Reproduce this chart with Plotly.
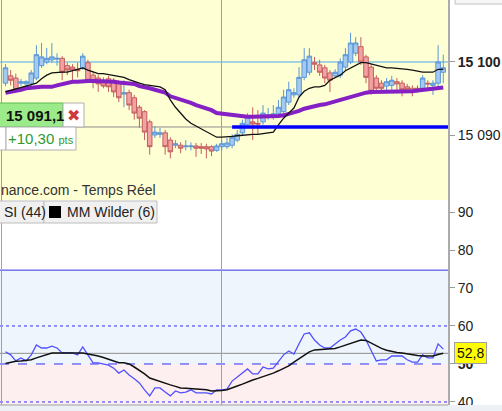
import plotly.graph_objects as go

# candle index (one per bar)
idx = list(range(86))

opens = [15097.1, 15098.1, 15097.8, 15097.1, 15097.0, 15097.1, 15097.8, 15099.5, 15100.0, 15100.3,
         15100.4, 15100.5, 15099.5, 15099.3, 15099.0, 15099.2, 15099.9, 15098.2, 15097.8, 15097.5,
         15097.7, 15097.5, 15097.1, 15095.6, 15095.8, 15095.1, 15093.8, 15093.2, 15091.8, 15090.0,
         15090.1, 15090.3, 15089.3, 15088.6, 15088.6, 15088.4, 15088.4, 15088.5, 15088.4, 15088.4,
         15088.4, 15087.9, 15088.4, 15088.4, 15088.6, 15089.3, 15090.3, 15091.4, 15091.8, 15091.6,
         15091.8, 15092.6, 15092.7, 15092.9, 15093.2, 15094.5, 15095.5, 15095.5, 15097.9, 15098.6,
         15099.9, 15099.6, 15099.2, 15098.5, 15098.1, 15098.2, 15099.3, 15100.0, 15101.2, 15102.1,
         15100.7, 15099.3, 15097.8, 15097.1, 15096.7, 15096.8, 15097.3, 15097.1, 15096.6, 15096.4,
         15096.4, 15096.4, 15097.1, 15096.8, 15097.1, 15098.6]
highs = [15099.7, 15098.9, 15098.4, 15097.7, 15097.5, 15098.9, 15102.3, 15102.6, 15101.9, 15102.6,
         15101.2, 15100.8, 15099.9, 15099.7, 15099.9, 15101.2, 15100.3, 15098.6, 15098.2, 15097.9,
         15098.1, 15097.8, 15097.5, 15097.5, 15096.2, 15095.5, 15094.1, 15093.4, 15092.1, 15091.2,
         15091.0, 15090.7, 15089.7, 15089.3, 15089.0, 15089.3, 15089.0, 15088.9, 15088.9, 15088.8,
         15088.6, 15088.8, 15089.3, 15089.6, 15090.1, 15090.7, 15092.1, 15093.0, 15093.8, 15093.4,
         15094.1, 15093.7, 15094.1, 15094.8, 15096.2, 15097.3, 15096.4, 15099.3, 15101.9, 15101.9,
         15100.7, 15100.3, 15099.6, 15098.9, 15099.0, 15100.5, 15101.9, 15104.0, 15103.4, 15103.4,
         15101.0, 15099.7, 15098.2, 15097.5, 15097.8, 15098.1, 15097.8, 15097.5, 15097.0, 15096.8,
         15096.8, 15098.2, 15097.5, 15097.5, 15102.3, 15101.0]
lows = [15096.7, 15096.8, 15095.9, 15096.7, 15096.6, 15096.7, 15097.5, 15099.2, 15099.7, 15099.9,
        15099.5, 15097.5, 15098.2, 15097.5, 15097.9, 15098.9, 15097.1, 15096.4, 15095.9, 15096.4,
        15095.9, 15095.2, 15094.5, 15093.8, 15093.4, 15092.1, 15091.0, 15089.3, 15087.3, 15089.6,
        15089.6, 15087.3, 15086.8, 15088.2, 15087.5, 15087.9, 15087.9, 15087.0, 15087.4, 15086.8,
        15087.1, 15087.7, 15087.9, 15088.1, 15088.2, 15089.0, 15090.0, 15091.0, 15089.3, 15090.0,
        15091.4, 15092.1, 15092.1, 15092.6, 15092.9, 15094.1, 15095.1, 15095.1, 15097.5, 15098.2,
        15098.9, 15098.1, 15097.1, 15095.9, 15097.8, 15097.8, 15098.9, 15099.7, 15100.8, 15099.6,
        15097.1, 15095.5, 15095.8, 15095.9, 15095.9, 15096.2, 15095.9, 15095.3, 15095.8, 15095.3,
        15095.8, 15095.9, 15096.4, 15095.5, 15096.2, 15097.1]
closes = [15099.2, 15097.5, 15096.2, 15097.3, 15097.3, 15098.5, 15101.0, 15100.7, 15100.5, 15100.7,
          15100.5, 15098.6, 15098.9, 15098.9, 15098.8, 15100.8, 15097.5, 15097.3, 15097.0, 15096.7,
          15096.6, 15095.9, 15095.1, 15095.8, 15094.1, 15093.0, 15092.3, 15090.4, 15088.4, 15090.4,
          15090.3, 15088.4, 15087.7, 15088.8, 15088.2, 15088.5, 15088.5, 15088.2, 15088.2, 15088.1,
          15087.8, 15088.5, 15088.8, 15088.9, 15089.7, 15090.1, 15091.6, 15092.5, 15091.5, 15091.5,
          15093.0, 15092.7, 15092.9, 15093.8, 15095.2, 15096.2, 15095.8, 15097.9, 15100.3, 15100.8,
          15099.7, 15098.6, 15097.8, 15097.5, 15098.6, 15100.0, 15101.0, 15102.6, 15102.6, 15100.0,
          15097.9, 15096.0, 15096.4, 15096.4, 15097.3, 15097.5, 15097.0, 15096.2, 15096.2, 15096.0,
          15096.2, 15097.8, 15097.0, 15097.1, 15100.0, 15099.2]

# short moving average (black) and long moving average (purple)
ma_short = [15095.9, 15096.1, 15096.3, 15096.4, 15096.6, 15096.8, 15097.1, 15097.7, 15098.2, 15098.5,
            15098.6, 15098.6, 15098.6, 15098.8, 15098.9, 15099.2, 15098.9, 15098.6, 15098.4, 15098.4,
            15098.3, 15098.2, 15098.1, 15097.9, 15097.6, 15097.3, 15097.1, 15096.9, 15096.8, 15096.7,
            15096.6, 15096.2, 15094.8, 15093.8, 15093.0, 15092.2, 15091.6, 15091.2, 15090.9, 15090.5,
            15090.0, 15089.7, 15089.7, 15089.7, 15089.8, 15089.9, 15090.0, 15090.1, 15090.1, 15090.1,
            15090.2, 15090.3, 15090.4, 15091.4, 15092.3, 15093.0, 15093.7, 15095.2, 15096.0, 15096.4,
            15096.6, 15096.6, 15096.8, 15097.5, 15097.9, 15098.2, 15098.8, 15099.2, 15099.6, 15099.9,
            15099.9, 15099.7, 15099.5, 15099.4, 15099.2, 15099.2, 15099.1, 15099.1, 15099.0, 15098.9,
            15098.7, 15098.6, 15098.6, 15098.6, 15099.0, 15099.0]
ma_long = [15095.8, 15095.9, 15096.0, 15096.2, 15096.4, 15096.5, 15096.6, 15096.6, 15096.6, 15096.6,
           15096.8, 15097.0, 15097.1, 15097.3, 15097.3, 15097.4, 15097.4, 15097.4, 15097.4, 15097.3,
           15097.3, 15097.3, 15097.2, 15097.1, 15097.1, 15097.0, 15096.7, 15096.6, 15096.4, 15096.2,
           15096.0, 15095.8, 15095.3, 15095.1, 15094.8, 15094.6, 15094.4, 15094.1, 15093.9, 15093.6,
           15093.4, 15093.0, 15092.9, 15092.8, 15092.7, 15092.7, 15092.6, 15092.5, 15092.5, 15092.5,
           15092.5, 15092.5, 15092.6, 15092.6, 15092.7, 15092.9, 15093.0, 15093.3, 15093.6, 15093.8,
           15094.0, 15094.1, 15094.2, 15094.4, 15094.6, 15094.8, 15095.0, 15095.3, 15095.5, 15095.6,
           15095.8, 15095.9, 15095.9, 15095.9, 15095.9, 15095.9, 15095.9, 15095.9, 15095.9, 15096.0,
           15096.1, 15096.2, 15096.3, 15096.4, 15096.4, 15096.5]

# RSI (44) and its Wilder moving average (6)
rsi = [53.2, 52.4, 50.8, 51.6, 50.8, 52.4, 55.0, 54.2, 54.2, 54.7,
       54.2, 52.9, 52.9, 52.9, 52.4, 54.5, 52.4, 50.3, 50.3, 50.0,
       49.7, 48.9, 47.6, 48.4, 47.1, 46.1, 45.0, 43.2, 41.6, 43.7,
       43.7, 42.6, 41.6, 42.9, 42.4, 42.6, 43.2, 42.4, 42.4, 42.4,
       42.1, 43.2, 43.2, 43.4, 45.5, 46.6, 47.6, 48.7, 47.4, 47.4,
       49.2, 48.7, 48.9, 50.8, 52.4, 53.4, 52.6, 55.3, 57.9, 58.2,
       56.3, 55.0, 54.2, 54.2, 55.3, 56.3, 57.1, 58.7, 59.2, 58.4,
       56.3, 53.4, 50.8, 51.1, 51.1, 52.1, 52.1, 52.1, 51.1, 50.5,
       50.5, 52.4, 51.6, 51.6, 55.3, 53.9]
rsi_ma = [50.1, 50.5, 50.7, 50.8, 50.9, 51.1, 51.6, 52.1, 52.6, 52.9,
          52.9, 52.9, 52.9, 52.9, 52.9, 52.9, 52.6, 52.4, 52.1, 51.7,
          51.3, 50.8, 50.3, 50.3, 50.0, 49.2, 48.4, 47.4, 46.3, 45.8,
          45.5, 45.0, 44.5, 44.1, 43.7, 43.6, 43.5, 43.4, 43.3, 43.2,
          42.9, 42.9, 43.0, 43.2, 43.6, 44.2, 44.7, 45.3, 45.8, 46.2,
          46.6, 47.1, 47.6, 48.2, 48.8, 49.5, 50.5, 51.4, 52.4, 53.2,
          53.7, 53.8, 53.9, 53.9, 54.1, 54.5, 54.9, 55.4, 55.9, 56.3,
          56.2, 55.5, 54.7, 54.1, 53.6, 53.2, 53.0, 52.9, 52.6, 52.4,
          52.2, 52.1, 52.1, 52.1, 52.5, 52.8]

# levels
price_line = 15100.0
alert_level = 15091.1
alert_start = 44
session_break = 42
rsi_zone_top = 74.7
rsi_mid = 50
rsi_dotted = [60, 40]
rsi_last = 52.8

price_ticks = [15090, 15100]
price_ticktext = ["15 090", "<b>15 100</b>"]
rsi_ticks = [40, 50, 60, 70, 80, 90]
rsi_ticktext = ["40", "<b>50</b>", "60", "70", "80", "90"]

FONT = "Liberation Sans"
GRID = "#A0A0A0"

fig = go.Figure()

fig.add_trace(go.Candlestick(
    x=idx, open=opens, high=highs, low=lows, close=closes,
    increasing=dict(line=dict(color="#5A96D6", width=1), fillcolor="#A4CAF2"),
    decreasing=dict(line=dict(color="#C45E5E", width=1), fillcolor="#F2A2A2"),
    whiskerwidth=0, xaxis="x", yaxis="y", hoverinfo="skip"))
fig.add_trace(go.Scatter(x=idx, y=ma_long, mode="lines",
                         line=dict(color="#8420C4", width=4), xaxis="x", yaxis="y"))
fig.add_trace(go.Scatter(x=idx, y=ma_short, mode="lines",
                         line=dict(color="#111111", width=1.3), xaxis="x", yaxis="y"))

fig.add_trace(go.Scatter(x=idx, y=rsi, mode="lines",
                         line=dict(color="#5050FF", width=1.3), xaxis="x2", yaxis="y2"))
fig.add_trace(go.Scatter(x=idx, y=rsi_ma, mode="lines",
                         line=dict(color="#111111", width=1.5), xaxis="x2", yaxis="y2"))

shapes = [
    # backgrounds
    dict(type="rect", xref="x domain", yref="y domain", x0=0, x1=1, y0=0, y1=1,
         fillcolor="#FFFFD4", line_width=0, layer="below"),
    dict(type="rect", xref="x2 domain", yref="y2", x0=0, x1=1, y0=rsi_mid, y1=rsi_zone_top,
         fillcolor="#EEF5FD", line_width=0, layer="below"),
    dict(type="rect", xref="x2 domain", yref="y2", x0=0, x1=1, y0=30, y1=rsi_mid,
         fillcolor="#FDEFEF", line_width=0, layer="below"),
    # price panel lines
    dict(type="line", xref="x domain", yref="y", x0=0, x1=1, y0=price_line, y1=price_line,
         line=dict(color="#4AA8F0", width=1), layer="below"),
    dict(type="line", xref="x domain", yref="y", x0=0, x1=1, y0=alert_level, y1=alert_level,
         line=dict(color="#8C8C8C", width=1), layer="below"),
    dict(type="line", xref="x", yref="y", x0=alert_start, x1=90, y0=alert_level, y1=alert_level,
         line=dict(color="#0000FF", width=3.5), layer="above"),
    # rsi panel lines
    dict(type="line", xref="x2 domain", yref="y2", x0=0, x1=1, y0=rsi_zone_top, y1=rsi_zone_top,
         line=dict(color="#3030E0", width=1), layer="below"),
    dict(type="line", xref="x2 domain", yref="y2", x0=0, x1=1, y0=rsi_mid, y1=rsi_mid,
         line=dict(color="#3030F0", width=1, dash="dash"), layer="below"),
    dict(type="line", xref="x2 domain", yref="y2", x0=0, x1=1, y0=rsi_last, y1=rsi_last,
         line=dict(color="#8C8C8C", width=1), layer="below"),
]
for lvl in rsi_dotted:
    shapes.append(dict(type="line", xref="x2 domain", yref="y2", x0=0, x1=1, y0=lvl, y1=lvl,
                       line=dict(color="#3030F0", width=1, dash="dot"), layer="below"))

# chart furniture (paper coords, plot area is 448 x 405 px)
W, H = 448.0, 405.0
def px(x):
    return x / W
def py(y):
    return (H - y) / H

shapes += [
    dict(type="line", xref="paper", yref="paper", x0=px(1.5), x1=px(1.5), y0=0, y1=1,
         line=dict(color=GRID, width=1)),
    dict(type="rect", xref="paper", yref="paper", x0=0, x1=px(502), y0=py(411), y1=py(405),
         fillcolor="#EDF1F6", line_width=0),
    dict(type="line", xref="paper", yref="paper", x0=0, x1=1, y0=py(405), y1=py(405),
         line=dict(color=GRID, width=1)),
    dict(type="rect", xref="paper", yref="paper", x0=px(455), x1=px(505), y0=py(4), y1=py(-3),
         fillcolor="#F7F7F7", line=dict(color="#C0C0C0", width=1)),
    # price label boxes
    dict(type="rect", xref="paper", yref="paper", x0=px(-3), x1=px(63), y0=py(127), y1=py(103),
         fillcolor="#9CEB8A", line=dict(color="#5DBB55", width=1)),
    dict(type="rect", xref="paper", yref="paper", x0=px(63), x1=px(84), y0=py(127), y1=py(103),
         fillcolor="#FFFFFF", line=dict(color="#B0B0B0", width=1)),
    dict(type="rect", xref="paper", yref="paper", x0=px(-6), x1=px(6), y0=py(150), y1=py(127),
         fillcolor="#FFFFFF", line=dict(color="#B0B0B0", width=1)),
    dict(type="rect", xref="paper", yref="paper", x0=px(6), x1=px(76), y0=py(150), y1=py(127),
         fillcolor="#FFFFFF", line=dict(color="#B0B0B0", width=1)),
    # indicator legend boxes
    dict(type="rect", xref="paper", yref="paper", x0=px(-3), x1=px(44), y0=py(223), y1=py(201),
         fillcolor="#F0F0F0", line=dict(color="#BDBDBD", width=1)),
    dict(type="rect", xref="paper", yref="paper", x0=px(44), x1=px(157), y0=py(223), y1=py(201),
         fillcolor="#F0F0F0", line=dict(color="#BDBDBD", width=1)),
    dict(type="rect", xref="paper", yref="paper", x0=px(49), x1=px(61), y0=py(218), y1=py(206),
         fillcolor="#000000", line_width=0),
]

def note(x, y, text, size=14, color="#222222", family=FONT, anchor="center", **kw):
    return dict(xref="paper", yref="paper", x=px(x), y=py(y), text=text, showarrow=False,
                xanchor=anchor, yanchor="middle",
                font=dict(family=family, size=size, color=color), **kw)

annotations = [
    note(35, 115, "<b>15 091,1</b>", size=15, color="#111111"),
    note(73.5, 115, "✖", size=16, color="#D03A3A", family="DejaVu Sans"),
    note(41, 138.5, "+10,30 <span style='font-size:11px'>pts</span>", size=15, color="#2E9A2E"),
    note(-1, 190, "nance.com - Temps Réel", color="#333333", anchor="left"),
    note(2, 212, "SI (44)", anchor="left"),
    note(65, 212, "MM Wilder (6)", anchor="left"),
    dict(xref="paper", yref="y2", x=px(470), y=rsi_last, text="52,8", showarrow=False,
         xanchor="center", yanchor="middle",
         bgcolor="#FFFF00", bordercolor="#A0A0A0", borderwidth=1, borderpad=2,
         font=dict(family=FONT, size=14, color="#111111")),
]

split = py(200)
xcommon = dict(range=[-1.07, 85.92], tickvals=[session_break], showticklabels=False,
               ticks="", showgrid=True, gridcolor=GRID, gridwidth=1, zeroline=False,
               showline=False, fixedrange=True)
ycommon = dict(side="right", ticks="outside", ticklen=5, tickcolor="#9A9A9A",
               showgrid=False, zeroline=False, showline=True, linecolor="#ABABAB",
               linewidth=2, tickfont=dict(family=FONT, size=14, color="#222222"),
               fixedrange=True)

fig.update_layout(
    width=502, height=411,
    margin=dict(l=0, r=54, t=0, b=6),
    paper_bgcolor="white", plot_bgcolor="white",
    showlegend=False,
    font=dict(family=FONT),
    boxgap=0.12, boxgroupgap=0,
    xaxis=dict(**xcommon, domain=[0, 1], anchor="y", rangeslider=dict(visible=False)),
    xaxis2=dict(**xcommon, domain=[0, 1], anchor="y2", matches="x"),
    yaxis=dict(**ycommon, domain=[split, 1], anchor="x", range=[15081.1, 15108.49],
               tickvals=price_ticks, ticktext=price_ticktext),
    yaxis2=dict(**ycommon, domain=[0, split], anchor="x2", range=[39.2, 93.16],
                tickvals=rsi_ticks, ticktext=rsi_ticktext),
    shapes=shapes,
    annotations=annotations,
)

# the page body has a default 8px margin; remove it so the chart sits at 0,0
fig.write_html("out.html", config={"displayModeBar": False},
               post_script="document.body.style.margin='0';")
